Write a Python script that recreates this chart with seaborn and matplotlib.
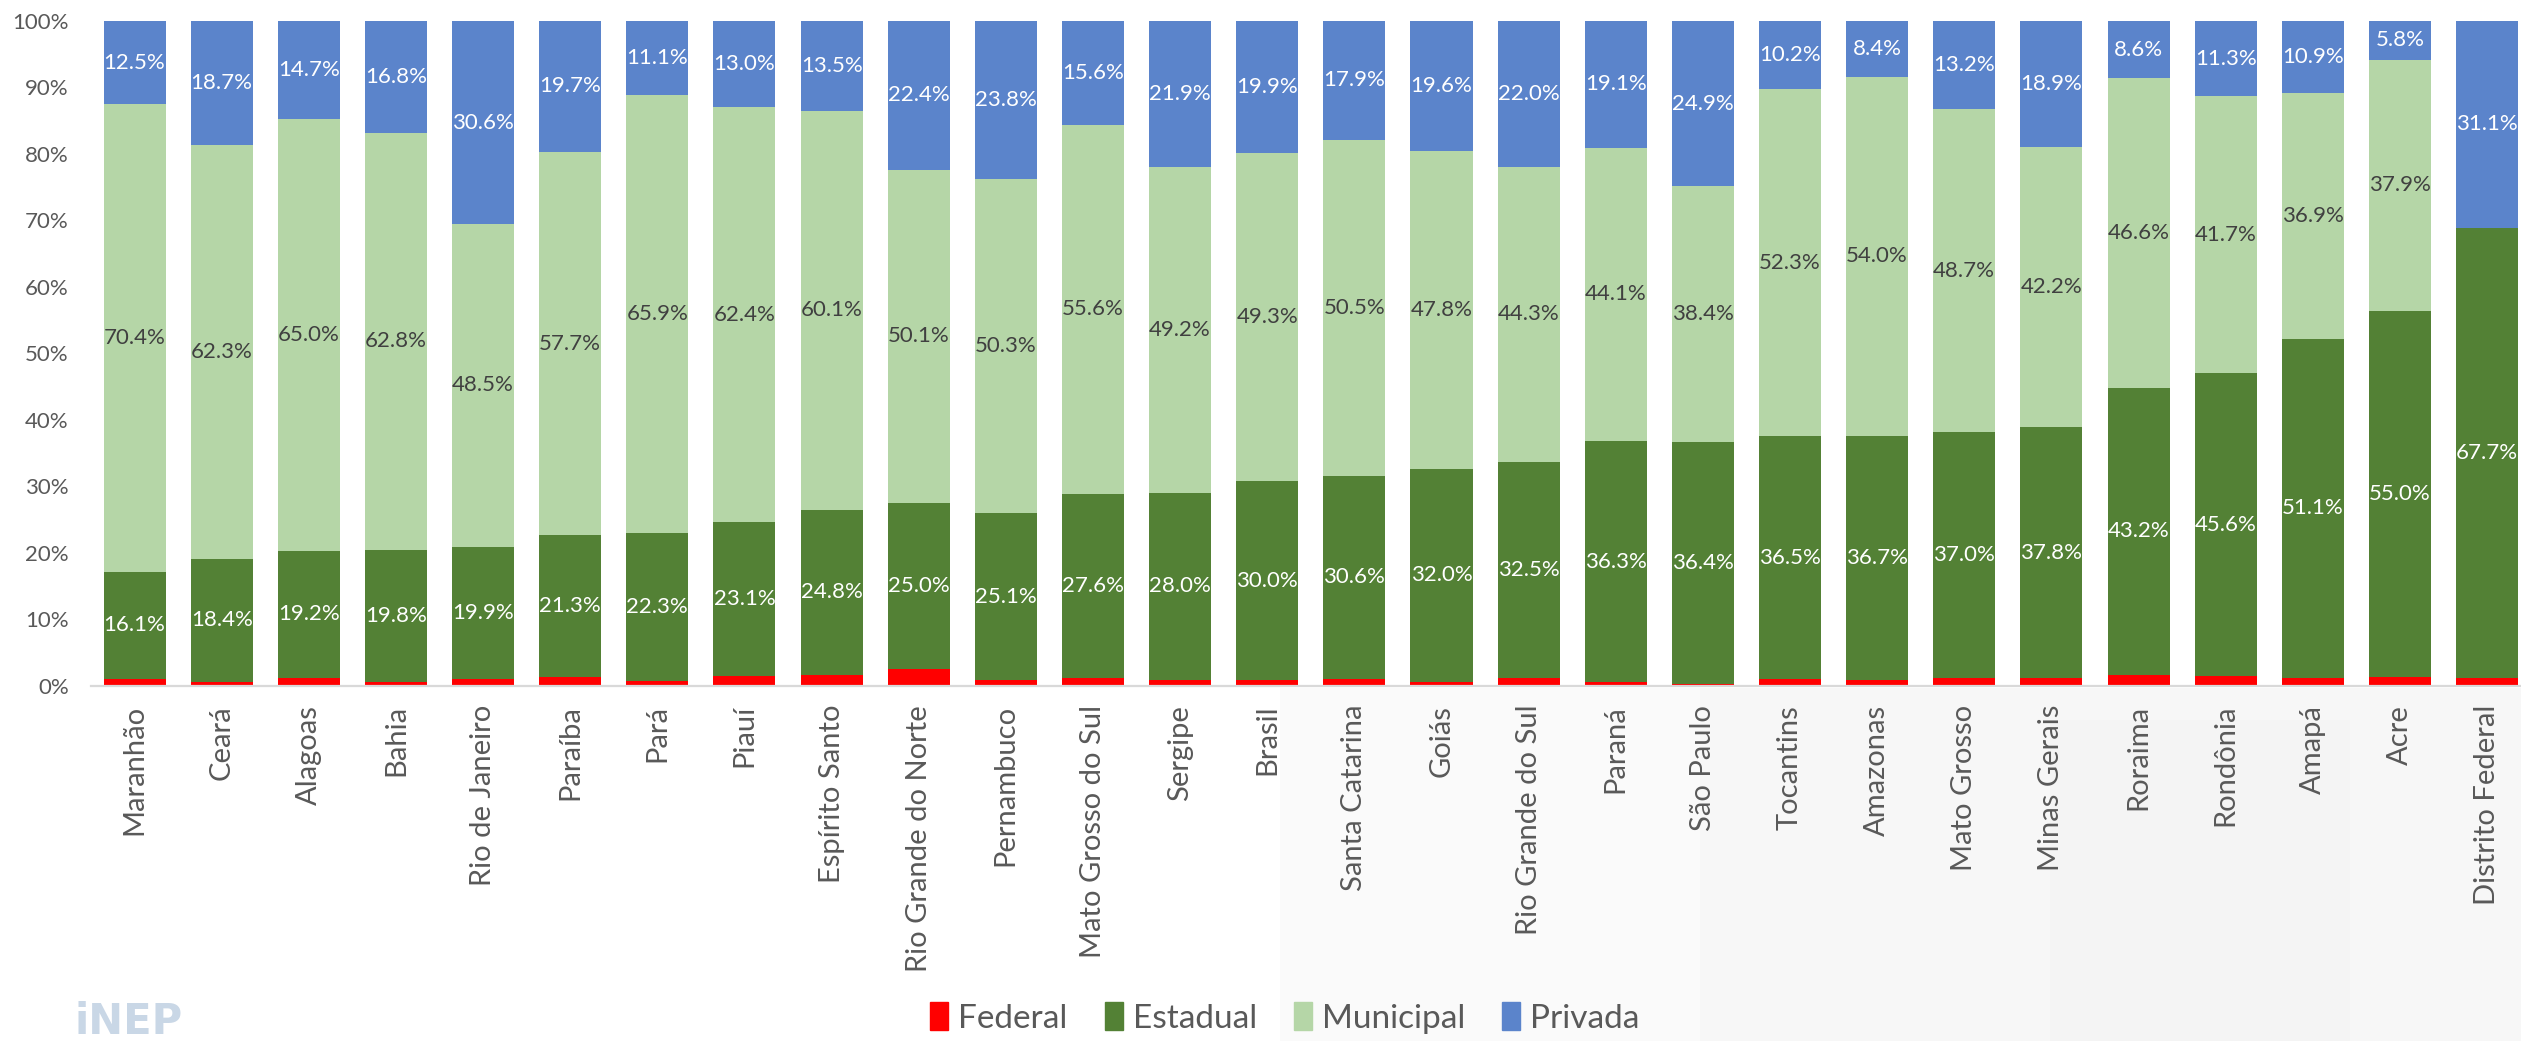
import matplotlib
matplotlib.use("Agg")
import matplotlib.pyplot as plt
import matplotlib.patches as mpatches
import numpy as np
import pandas as pd
import seaborn as sns

# ---------------- data ----------------
states = ["Maranhão", "Ceará", "Alagoas", "Bahia", "Rio de Janeiro", "Paraíba", "Pará",
          "Piauí", "Espírito Santo", "Rio Grande do Norte", "Pernambuco",
          "Mato Grosso do Sul", "Sergipe", "Brasil", "Santa Catarina", "Goiás",
          "Rio Grande do Sul", "Paraná", "São Paulo", "Tocantins", "Amazonas",
          "Mato Grosso", "Minas Gerais", "Roraima", "Rondônia", "Amapá", "Acre",
          "Distrito Federal"]
federal = [1.0, 0.6, 1.1, 0.6, 1.0, 1.3, 0.7, 1.5, 1.6, 2.5, 0.8, 1.2, 0.9, 0.8,
           1.0, 0.6, 1.2, 0.5, 0.3, 1.0, 0.9, 1.1, 1.1, 1.6, 1.4, 1.1, 1.3, 1.2]
estadual = [16.1, 18.4, 19.2, 19.8, 19.9, 21.3, 22.3, 23.1, 24.8, 25.0, 25.1, 27.6,
            28.0, 30.0, 30.6, 32.0, 32.5, 36.3, 36.4, 36.5, 36.7, 37.0, 37.8, 43.2,
            45.6, 51.1, 55.0, 67.7]
municipal = [70.4, 62.3, 65.0, 62.8, 48.5, 57.7, 65.9, 62.4, 60.1, 50.1, 50.3, 55.6,
             49.2, 49.3, 50.5, 47.8, 44.3, 44.1, 38.4, 52.3, 54.0, 48.7, 42.2, 46.6,
             41.7, 36.9, 37.9, 0.0]
privada = [12.5, 18.7, 14.7, 16.8, 30.6, 19.7, 11.1, 13.0, 13.5, 22.4, 23.8, 15.6,
           21.9, 19.9, 17.9, 19.6, 22.0, 19.1, 24.9, 10.2, 8.4, 13.2, 18.9, 8.6,
           11.3, 10.9, 5.8, 31.1]
yticks = [0, 10, 20, 30, 40, 50, 60, 70, 80, 90, 100]
series_names = ["Federal", "Estadual", "Municipal", "Privada"]

# ---------------- style ----------------
colors = {"Federal": "#FF0000", "Estadual": "#538135",
          "Municipal": "#B5D6A7", "Privada": "#5B84CB"}
label_colors = {"Estadual": "white", "Municipal": "#404040", "Privada": "white"}
tick_color = "#595959"

sns.set_theme(style="white")
plt.rcParams["font.family"] = ["Lato", "DejaVu Sans"]

df = pd.DataFrame({"estado": states, "Federal": federal, "Estadual": estadual,
                   "Municipal": municipal, "Privada": privada})
df["c1"] = df["Federal"]
df["c2"] = df["c1"] + df["Estadual"]
df["c3"] = df["c2"] + df["Municipal"]
df["c4"] = df["c3"] + df["Privada"]

W, H = 2521, 1041
fig = plt.figure(figsize=(W / 100, H / 100), dpi=100)
fig.patch.set_facecolor("white")

# faint background watermark (lower right, below the plot area)
for (x0, y0, w, h, c) in [(1280, 688, 1241, 353, "#fafafa"),
                          (1700, 688, 821, 353, "#f7f7f7"),
                          (2050, 720, 300, 321, "#f4f4f4")]:
    fig.patches.append(mpatches.Rectangle((x0 / W, 1 - (y0 + h) / H), w / W, h / H,
                                          transform=fig.transFigure, color=c,
                                          zorder=-10, lw=0))

ax = fig.add_axes([91 / W, 1 - 685.5 / H, (2530.6 - 91) / W, 664.5 / H])
ax.patch.set_alpha(0)

bw = 0.712
for col, name in [("c4", "Privada"), ("c3", "Municipal"), ("c2", "Estadual"), ("c1", "Federal")]:
    sns.barplot(data=df, x="estado", y=col, order=states, color=colors[name],
                width=bw, errorbar=None, saturation=1, ax=ax, linewidth=0)

# data labels
bottoms = {"Estadual": df["c1"], "Municipal": df["c2"], "Privada": df["c3"]}
for name in ["Estadual", "Municipal", "Privada"]:
    vals = df[name]
    for i, (v, b) in enumerate(zip(vals, bottoms[name])):
        if v <= 0:
            continue
        ax.text(i, b + v / 2, f"{v:.1f}%", ha="center", va="center",
                color=label_colors[name], fontsize=16)

ax.set_ylim(0, 100)
ax.set_xlim(-0.5, len(states) - 0.5)
ax.set_yticks(yticks)
ax.set_yticklabels([f"{t}%" for t in yticks])
ax.set_xlabel("")
ax.set_ylabel("")
ax.tick_params(axis="y", length=0, pad=16, labelsize=16, labelcolor=tick_color)
ax.tick_params(axis="x", length=0, pad=14, labelsize=21, labelcolor=tick_color,
               labelrotation=90)
for s in ["top", "right", "left"]:
    ax.spines[s].set_visible(False)
ax.spines["bottom"].set_color("#d9d9d9")
ax.spines["bottom"].set_linewidth(1.6)
ax.grid(False)

# legend
handles = [mpatches.Patch(color=colors[n], label=n) for n in series_names]
fig.legend(handles=handles, loc="center", bbox_to_anchor=(1285 / W, 1 - 1018 / H),
           ncol=4, frameon=False, fontsize=24, handlelength=0.55, handleheight=0.9,
           handletextpad=0.3, columnspacing=1.1, labelcolor=tick_color)

# INEP logo text
fig.text(75 / W, 1 - 1034 / H, "iNEP", fontsize=30, fontweight="heavy",
         color="#c9d7e6", ha="left", va="baseline", family="DejaVu Sans")

fig.savefig("out.png", dpi=100)
